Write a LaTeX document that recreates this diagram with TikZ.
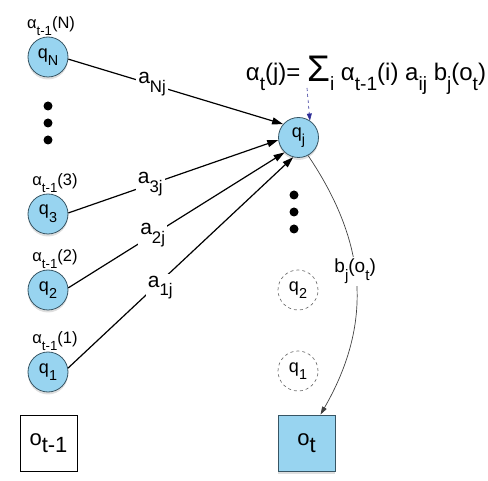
\documentclass[tikz,border=0pt]{standalone}
\usepackage{fontspec}
\usepackage{graphicx}
\setmainfont{Liberation Sans}
\usetikzlibrary{arrows.meta,shadows}

\definecolor{stateblue}{RGB}{152,212,240}
\definecolor{stateedge}{RGB}{55,85,100}
\definecolor{hintblue}{RGB}{45,45,150}
\newcommand{\lo}[1]{\raisebox{-0.42em}{\scalebox{0.8}{#1}}}

\begin{document}
\begin{tikzpicture}[
  x=1pt, y=-1pt,
  font=\fontsize{18}{21}\selectfont,
  state/.style={
    circle,
    draw=stateedge,
    fill=stateblue,
    line width=0.8pt,
    minimum size=40pt,
    inner sep=0pt,
    drop shadow={opacity=0.25,shadow xshift=0pt,shadow yshift=-2.5pt}
  },
  ghost/.style={
    circle,
    draw=black!55,
    dashed,
    line width=0.7pt,
    minimum size=40pt,
    inner sep=0pt
  },
  obsbox/.style={
    draw=#1,
    line width=0.8pt,
    minimum width=57pt,
    minimum height=56pt,
    inner sep=0pt,
    font=\fontsize{22}{24}\selectfont
  },
  forward/.style={font=\fontsize{16.5}{18}\selectfont, inner sep=1pt},
  weight/.style={
    fill=white,
    inner sep=2pt,
    font=\fontsize{21}{23}\selectfont
  },
  flow arrow/.style={
    -{Triangle[length=11pt,width=7pt]},
    draw=black,
    line width=1.2pt
  },
  dot/.style={circle, fill=black, minimum size=9pt, inner sep=0pt}
]
\useasboundingbox (0,0) rectangle (488,481);

% previous time step
\node[state,label={[forward,xshift=3pt]above:{α\lo{t-1}(N)}}] (qN) at (48,57) {q\lo{N}};
\node[dot] (dotA) at (48,106) {};
\node[dot] (dotB) at (48,123) {};
\node[dot] (dotC) at (48,140) {};
\node[state,label={[forward,xshift=7pt]above:{α\lo{t-1}(3)}}] (q3) at (48,214) {q\lo{3}};
\node[state,label={[forward,xshift=7pt]above:{α\lo{t-1}(2)}}] (q2) at (48,290) {q\lo{2}};
\node[state,label={[forward,xshift=7pt]above:{α\lo{t-1}(1)}}] (q1) at (48,372) {q\lo{1}};
\node[obsbox=black,fill=white] (prevobs) at (48.5,443) {o\raisebox{-7pt}{t-1}};

% current time step
\node[state] (qj) at (298.5,137.5) {q\lo{j}};
\node[dot] (dotD) at (294,195) {};
\node[dot] (dotE) at (294,212) {};
\node[dot] (dotF) at (294,229) {};
\node[ghost] (gq2) at (298,290) {q\lo{2}};
\node[ghost] (gq1) at (298,371) {q\lo{1}};
\node[obsbox=stateedge,fill=stateblue,
      drop shadow={opacity=0.25,shadow xshift=0pt,shadow yshift=-2.5pt}] (obs) at (306.5,443) {o\raisebox{-7pt}{t}};

\node[font=\fontsize{24}{27}\selectfont,inner sep=0pt] (recursion) at (366,75)
  {α\lo{t}(j)= {\fontsize{37}{37}\selectfont\raisebox{-1pt}{Σ}}\lo{i} α\lo{t-1}(i) a\lo{ij} b\lo{j}(o\lo{t})};
\coordinate (pointer) at (307,88);

% transitions
\draw[flow arrow] (qN.-6) -- node[weight,pos=0.39] {a\lo{Nj}} (qj.139);
\draw[flow arrow] (q3.3) -- node[weight,pos=0.39] {a\lo{3j}} (qj.-173);
\draw[flow arrow] (q2.6) -- node[weight,pos=0.39] {a\lo{2j}} (qj.-133);
\draw[flow arrow] (q1.11) -- node[weight,pos=0.41,yshift=-6pt] {a\lo{1j}} (qj.-105);

% emission
\draw[-{Triangle[length=8pt,width=5pt]},draw=black!75,line width=0.7pt]
  (qj.-62) .. controls (365,240) and (375,320) .. node[weight,pos=0.46,font=\fontsize{19}{21}\selectfont] {b\lo{j}(o\lo{t})} ([xshift=14pt]obs.north);

% pointer from the formula
\draw[-{Triangle[length=7pt,width=5pt]},dashed,draw=hintblue,line width=0.6pt]
  (pointer) -- (qj.56);
\end{tikzpicture}
\end{document}
